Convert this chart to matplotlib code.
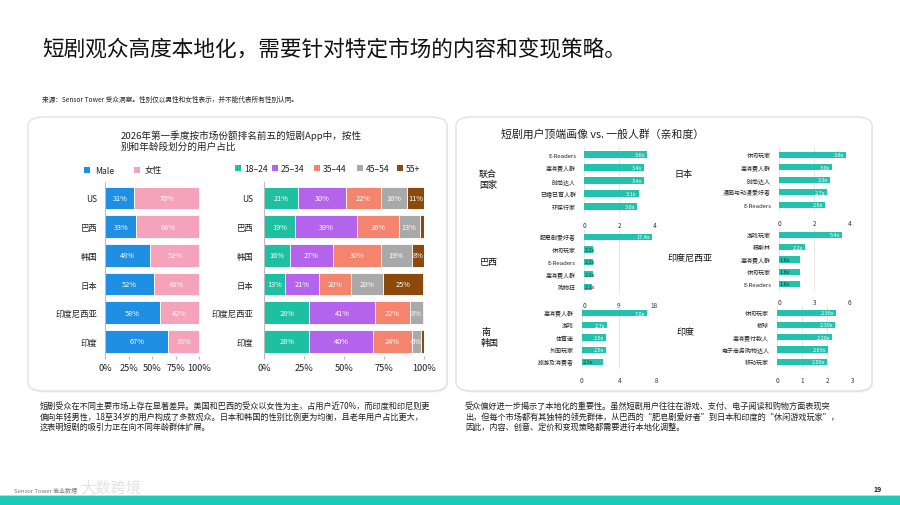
import matplotlib
matplotlib.use('Agg')
import matplotlib.pyplot as plt
from matplotlib.patches import FancyBboxPatch, Rectangle

plt.rcParams['font.family'] = ['Noto Sans CJK SC', 'DejaVu Sans']

W, H = 900, 506

# ---------------- data ----------------
title = "短剧观众高度本地化，需要针对特定市场的内容和变现策略。"
source = "来源：Sensor Tower 受众洞察。性别仅以男性和女性表示，并不能代表所有性别认同。"
left_chart_title = "2026年第一季度按市场份额排名前五的短剧App中，按性\n别和年龄段划分的用户占比"
markets = ["US", "巴西", "韩国", "日本", "印度尼西亚", "印度"]
gender_labels = ["Male", "女性"]
male = [31, 33, 48, 52, 58, 67]
female = [70, 68, 52, 48, 42, 33]
age_labels = ["18–24", "25–34", "35–44", "45–54", "55+"]
age_18_24 = [21, 19, 16, 13, 28, 28]
age_25_34 = [30, 39, 27, 21, 41, 40]
age_35_44 = [22, 26, 30, 20, 22, 24]
age_45_54 = [16, 13, 19, 20, 8, 6]
age_55p = [11, 3, 8, 25, 1, 2]
pct_ticks = [0, 25, 50, 75, 100]
pct_ticklabels = ["0%", "25%", "50%", "75%", "100%"]

right_title = "短剧用户顶端画像 vs. 一般人群（亲和度）"

uk_name = "联合\n国家"
uk_segments = ["E-Readers", "高消费人群", "时尚达人", "已婚已育人群", "环保行家"]
uk_values = [3.6, 3.4, 3.4, 3.1, 3.0]
uk_ticks = [0, 2, 4]

jp_name = "日本"
jp_segments = ["休闲玩家", "高消费人群", "时尚达人", "漫画与动漫爱好者", "E-Readers"]
jp_values = [3.8, 3.0, 2.9, 2.7, 2.6]
jp_ticks = [0, 2, 4]

br_name = "巴西"
br_segments = ["肥皂剧爱好者", "休闲玩家", "E-Readers", "高消费人群", "购物狂"]
br_values = [17.4, 2.2, 2.2, 2.2, 2.1]
br_ticks = [0, 9, 18]

id_name = "印度尼西亚"
id_segments = ["游戏玩家", "穆斯林", "高消费人群", "休闲玩家", "E-Readers"]
id_values = [5.4, 2.2, 1.8, 1.8, 1.8]
id_ticks = [0, 3, 6]

kr_name = "南\n韩国"
kr_segments = ["高消费人群", "游戏", "体育迷", "外国玩家", "旅游及消费者"]
kr_values = [7.0, 2.7, 2.6, 2.6, 2.3]
kr_ticks = [0, 4, 8]

in_name = "印度"
in_segments = ["休闲玩家", "板球", "高消费付款人", "电子商务购物达人", "移动玩家"]
in_values = [2.36, 2.30, 2.20, 2.03, 2.00]
in_ticks = [0, 1, 2, 3]

left_text = ("短剧受众在不同主要市场上存在显著差异。美国和巴西的受众以女性为主，占用户近70%，而印度和印尼则更\n"
             "偏向年轻男性，18至34岁的用户构成了多数观众。日本和韩国的性别比例更为均衡，且老年用户占比更大，\n"
             "这表明短剧的吸引力正在向不同年龄群体扩展。")
right_text = ("受众偏好进一步揭示了本地化的重要性。虽然短剧用户往往在游戏、支付、电子阅读和购物方面表现突\n"
              "出，但每个市场都有其独特的领先群体，从巴西的“肥皂剧爱好者”到日本和印度的“休闲游戏玩家”，\n"
              "因此，内容、创意、定价和变现策略都需要进行本地化调整。")
page_number = "19"

# ---------------- styles ----------------
C_MALE = "#1E8FE3"
C_FEMALE = "#F4A3BA"
AGE_COLORS = ["#1FBFA2", "#B464EC", "#F4846E", "#A9A9A9", "#8B4A0C"]
C_TEAL = "#22C2AD"
C_FOOT = "#1DCAB7"

fig = plt.figure(figsize=(9, 5.06), dpi=100)


def fx(x):
    return x / W


def fy(y):
    return 1 - y / H


def add_ax(x0, x1, ytop, ybot):
    return fig.add_axes([x0 / W, 1 - ybot / H, (x1 - x0) / W, (ybot - ytop) / H])


# title & source
fig.text(fx(42), fy(50), title, fontsize=15.6, ha='left', va='center', color='#111111')
fig.text(fx(42), fy(100), source, fontsize=4.8, ha='left', va='center', color='#222222')

# panels (behind axes)
for (x0, x1) in [(28, 447), (456, 872)]:
    shadow = FancyBboxPatch((fx(x0 + 1), fy(393.5)), fx(x1 - x0), (392 - 118) / H,
                            boxstyle="round,pad=0,rounding_size=0.018",
                            transform=fig.transFigure, facecolor='#ececec',
                            edgecolor='none', zorder=-3)
    box = FancyBboxPatch((fx(x0), fy(392)), fx(x1 - x0), (392 - 118) / H,
                         boxstyle="round,pad=0,rounding_size=0.018",
                         transform=fig.transFigure, facecolor='white',
                         edgecolor='#e2e2e2', linewidth=1.0, zorder=-2)
    fig.patches.append(shadow)
    fig.patches.append(box)

# ---------------- left panel ----------------
fig.text(fx(121), fy(141), left_chart_title, fontsize=6.9, ha='left', va='center',
         color='#222222', linespacing=1.1)

c0, c5 = 199.0, 342.5
s = (c5 - c0) / 5
ytop, ybot = c0 - 0.55 * s, c5 + 0.5 * s
ypos = list(range(len(markets)))


def style_pct_axis(ax, pad_px):
    ax.set_xlim(0, 100)
    ax.set_ylim(5.5, -0.55)
    ax.set_xticks(pct_ticks)
    ax.set_xticklabels(pct_ticklabels, fontsize=6.6, color='#222222')
    ax.set_yticks(ypos)
    ax.set_yticklabels(markets, fontsize=6.0, color='#222222')
    ax.tick_params(axis='y', length=0, pad=pad_px / 1.389)
    ax.tick_params(axis='x', length=2.5, color='#bbbbbb', pad=3)
    for sp in ['top', 'right', 'bottom']:
        ax.spines[sp].set_visible(False)
    ax.spines['left'].set_color('#bbbbbb')
    ax.spines['left'].set_linewidth(0.8)
    ax.patch.set_alpha(0)


# gender chart
axg = add_ax(105.3, 199.3, ytop, ybot)
bh = 0.79
axg.barh(ypos, male, height=bh, color=C_MALE, edgecolor='white', linewidth=0.6)
axg.barh(ypos, female, left=male, height=bh, color=C_FEMALE, edgecolor='white', linewidth=0.6)
for i in ypos:
    axg.text(male[i] / 2, i, f"{male[i]}%", ha='center', va='center', fontsize=5.3, color='white')
    axg.text(male[i] + min(female[i], 100 - male[i]) / 2, i, f"{female[i]}%", ha='center',
             va='center', fontsize=5.3, color='white')
style_pct_axis(axg, 8)

# gender legend
for lab, col, xs in zip(gender_labels, [C_MALE, C_FEMALE], [84, 134]):
    fig.patches.append(Rectangle((fx(xs), fy(174)), 6 / W, 6 / H, transform=fig.transFigure,
                                 facecolor=col, edgecolor='none'))
    fig.text(fx(xs + 11), fy(171), lab, fontsize=6.2, ha='left', va='center', color='#222222')

# age chart
axa = add_ax(264.3, 424.3, ytop, ybot)
age_series = [age_18_24, age_25_34, age_35_44, age_45_54, age_55p]
left = [0] * len(markets)
for ser, col in zip(age_series, AGE_COLORS):
    axa.barh(ypos, ser, left=left, height=bh, color=col, edgecolor='white', linewidth=0.6)
    for i in ypos:
        if ser[i] >= 4:
            axa.text(left[i] + ser[i] / 2, i, f"{ser[i]}%", ha='center', va='center',
                     fontsize=5.3, color='white')
    left = [l + v for l, v in zip(left, ser)]
style_pct_axis(axa, 11)

for lab, col, xs in zip(age_labels, AGE_COLORS, [235, 272, 314, 357, 397]):
    fig.patches.append(Rectangle((fx(xs), fy(172)), 6 / W, 6 / H, transform=fig.transFigure,
                                 facecolor=col, edgecolor='none'))
    fig.text(fx(xs + 9), fy(169), lab, fontsize=6.2, ha='left', va='center', color='#222222')

# ---------------- right panel ----------------
fig.text(fx(501), fy(134), right_title, fontsize=7.8, ha='left', va='center', color='#222222')

small_charts = [
    (uk_name, uk_segments, uk_values, uk_ticks, 1),
    (jp_name, jp_segments, jp_values, jp_ticks, 1),
    (br_name, br_segments, br_values, br_ticks, 1),
    (id_name, id_segments, id_values, id_ticks, 1),
    (kr_name, kr_segments, kr_values, kr_ticks, 1),
    (in_name, in_segments, in_values, in_ticks, 2),
]
# layout: x0, x1, first row centre, last row centre, name x, name y, name ha
layouts = [
    (584.3, 654.3, 155.7, 207.3, 488, 180, 'center'),
    (779.3, 849.3, 155.7, 205.7, 683, 175, 'center'),
    (584.0, 654.0, 238.0, 287.7, 489, 262, 'center'),
    (779.3, 849.3, 236.0, 285.0, 690, 258, 'center'),
    (581.7, 656.7, 314.0, 363.0, 481, 338, 'left'),
    (777.3, 852.3, 313.7, 362.7, 685, 333, 'center'),
]

for (name, segs, vals, ticks, dec), (x0, x1, r0, r4, nx, ny, nha) in zip(small_charts, layouts):
    sp = (r4 - r0) / 4
    ax = add_ax(x0, x1, r0 - 0.6 * sp, r4 + 0.6 * sp)
    rows = list(range(len(segs)))
    ax.barh(rows, vals, height=0.5, color=C_TEAL, zorder=3)
    xmax = ticks[-1]
    ax.set_xlim(0, xmax)
    ax.set_ylim(4.6, -0.6)
    ax.set_xticks(ticks)
    ax.set_xticklabels([str(t) for t in ticks], fontsize=4.6, color='#333333')
    ax.set_yticks(rows)
    ax.set_yticklabels(segs, fontsize=4.3, color='#222222')
    ax.tick_params(axis='both', length=0)
    ax.tick_params(axis='y', pad=6)
    ax.tick_params(axis='x', pad=5)
    for spn in ax.spines.values():
        spn.set_visible(False)
    ax.grid(axis='x', color='#e3e3e3', linewidth=0.6, zorder=0)
    ax.set_axisbelow(True)
    ax.patch.set_alpha(0)
    for i, v in zip(rows, vals):
        lab = f"{v:.{dec}f}x"
        if v / xmax > 0.3:
            ax.text(v - xmax * 0.025, i, lab, ha='right', va='center', fontsize=4.0,
                    color='white', zorder=4)
        else:
            ax.text(xmax * 0.01, i, lab, ha='left', va='center', fontsize=4.0,
                    color='#333333', zorder=4)
    fig.text(fx(nx), fy(ny), name, fontsize=6.5, ha=nha, va='center', color='#111111',
             linespacing=1.3, multialignment='left')

# ---------------- bottom text ----------------
fig.text(fx(40), fy(417), left_text, fontsize=5.9, ha='left', va='center', color='#222222',
         linespacing=1.2)
fig.text(fx(465), fy(417), right_text, fontsize=5.9, ha='left', va='center', color='#222222',
         linespacing=1.2)

# ---------------- footer ----------------
fig.patches.append(Rectangle((0, 0), 1, 9 / H, transform=fig.transFigure,
                             facecolor=C_FOOT, edgecolor='none'))
fig.patches.append(Rectangle((0, 9 / H), 1, 1.5 / H, transform=fig.transFigure,
                             facecolor='#9fe6dc', edgecolor='none'))
fig.text(fx(878), fy(490), page_number, fontsize=5, ha='center', va='center',
         color='#222222', fontweight='bold')
fig.text(fx(14), fy(490), "Sensor Tower 商业数据", fontsize=4.3, ha='left', va='center',
         color='#777777')
fig.text(fx(80), fy(488), "大数跨境", fontsize=11, ha='left', va='center', color='#d8d8d8',
         alpha=0.7)

fig.savefig("out.png", dpi=100, facecolor='white')
